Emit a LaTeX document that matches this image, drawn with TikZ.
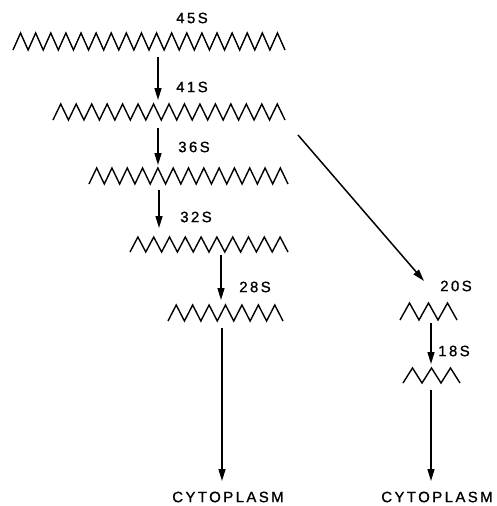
\documentclass[tikz,border=0pt]{standalone}
\usepackage{fontspec}
\setmainfont{Liberation Sans}[LetterSpace=16,FakeBold=0.9]
\usetikzlibrary{arrows.meta}
\newcommand{\zigline}[5]{%
  \draw[zz] (#1,#4) \foreach \i in {1,...,#5} { -- ({#1+(\i-0.5)*(#2-#1)/#5},#3) -- ({#1+\i*(#2-#1)/#5},#4) };%
}
\begin{document}
\begin{tikzpicture}[x=1pt,y=-1pt,
  zz/.style={line width=1.4pt,line join=miter},
  arr/.style={line width=1.5pt,-{Triangle[length=12pt,width=7pt]}},
  lbl/.style={font=\fontsize{15}{15}\selectfont,inner sep=0pt,anchor=center}]
\useasboundingbox (0,0) rectangle (497,506);
% zigzag molecules
\zigline{13}{285}{33}{50}{18}
\zigline{53}{285}{104}{120}{15}
\zigline{89}{288}{168}{184}{13}
\zigline{130}{288}{237}{252}{10}
\zigline{168}{283}{305}{321}{7}
\zigline{400}{457}{303}{320}{3}
\zigline{403}{460}{368}{383}{3}
% labels
\node[lbl] (l45) at (192,18) {45S};
\node[lbl] (l41) at (192,87) {41S};
\node[lbl] (l36) at (194,147) {36S};
\node[lbl] (l32) at (196,217) {32S};
\node[lbl] (l28) at (255,287) {28S};
\node[lbl] (l20) at (456,286) {20S};
\node[lbl] (l18) at (454,351) {18S};
\node[lbl] (c1) at (228,497) {CYTOPLASM};
\node[lbl] (c2) at (437,497) {CYTOPLASM};
% arrow end points
\coordinate (a1s) at (158,57);  \coordinate (a1e) at (158,100);
\coordinate (a2s) at (158,128); \coordinate (a2e) at (158,165);
\coordinate (a3s) at (159,190); \coordinate (a3e) at (159,228);
\coordinate (a4s) at (221,255); \coordinate (a4e) at (221,300);
\coordinate (a5s) at (222,328); \coordinate (a5e) at (222,481);
\coordinate (dgs) at (298,135); \coordinate (dge) at (424,281);
\coordinate (a6s) at (431,323); \coordinate (a6e) at (431,364);
\coordinate (a7s) at (431,390); \coordinate (a7e) at (431,481);
\draw[arr] (a1s) -- (a1e);
\draw[arr] (a2s) -- (a2e);
\draw[arr] (a3s) -- (a3e);
\draw[arr] (a4s) -- (a4e);
\draw[arr] (a5s) -- (a5e);
\draw[arr] (dgs) -- (dge);
\draw[arr] (a6s) -- (a6e);
\draw[arr] (a7s) -- (a7e);
\end{tikzpicture}
\end{document}
